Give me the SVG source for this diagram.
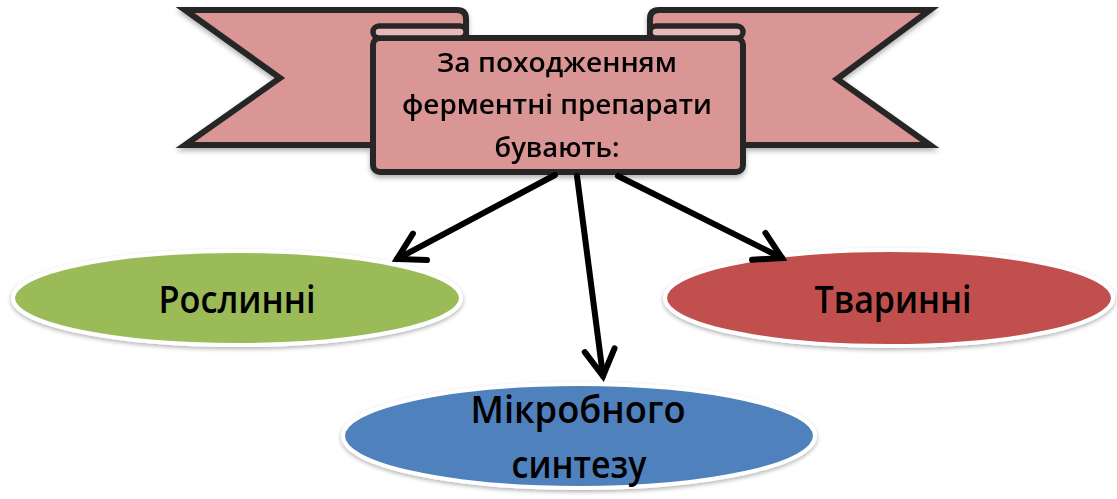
<svg xmlns="http://www.w3.org/2000/svg" width="1117" height="499" viewBox="0 0 1117 499">
<style>
.rib{fill:#d99694;stroke:#262626;stroke-width:6;stroke-linejoin:miter}
.curl{fill:#e6b8b7;stroke:#262626;stroke-width:5.5}
.hdr{font-family:"Open Sans","Liberation Sans",sans-serif;font-weight:600;font-size:27px;fill:#000;text-anchor:middle}
.lbl{font-family:"Open Sans","Liberation Sans",sans-serif;font-weight:600;font-size:38px;fill:#000;text-anchor:middle}
.ell{stroke:#ffffff;stroke-width:4;filter:url(#sh)}
.con{stroke:#000;stroke-width:6;fill:none;stroke-linecap:round;marker-end:url(#arr)}
</style>
<defs>
<filter id="sh" x="-10%" y="-20%" width="120%" height="150%">
<feDropShadow dx="0" dy="2" stdDeviation="2" flood-color="#000" flood-opacity="0.3"/>
</filter>
<filter id="sh2" x="-10%" y="-10%" width="120%" height="130%">
<feDropShadow dx="0" dy="3" stdDeviation="2.5" flood-color="#000" flood-opacity="0.3"/>
</filter>
<marker id="arr" markerUnits="userSpaceOnUse" viewBox="-34 -22 42 44" markerWidth="42" markerHeight="44" refX="0" refY="0" orient="auto">
<path d="M-26,-15 L0,0 L-26,15" fill="none" stroke="#000" stroke-width="6" stroke-linecap="round" stroke-linejoin="miter"/>
</marker>
</defs>
<g id="header" filter="url(#sh2)">
<path class="rib" d="M185,10 H457 Q466,10 466,19 V145 H185 L280,78 Z"/>
<path class="rib" d="M930,10 H659 Q650,10 650,19 V145 H930 L837,79 Z"/>
<rect class="rib" x="373" y="38" width="370" height="134" rx="7"/>
<rect class="curl" x="373" y="26" width="93" height="12" rx="6"/>
<rect class="curl" x="650" y="26" width="93" height="12" rx="6"/>
<text class="hdr" x="557" y="72" textLength="240" lengthAdjust="spacingAndGlyphs">За походженням</text>
<text class="hdr" x="557" y="114" textLength="310" lengthAdjust="spacingAndGlyphs">ферментні препарати</text>
<text class="hdr" x="557" y="157" textLength="125" lengthAdjust="spacingAndGlyphs">бувають:</text>
</g>
<g id="node-plant">
<ellipse class="ell" cx="237" cy="298" rx="224" ry="47" fill="#9bbb59"/>
<text class="lbl" x="237" y="313" textLength="157" lengthAdjust="spacingAndGlyphs">Рослинні</text>
</g>
<g id="node-animal">
<ellipse class="ell" cx="889" cy="298" rx="224" ry="48" fill="#c0504d"/>
<text class="lbl" x="893" y="313" textLength="157" lengthAdjust="spacingAndGlyphs">Тваринні</text>
</g>
<g id="node-microbial">
<ellipse class="ell" cx="579" cy="436" rx="236" ry="52" fill="#4f81bd"/>
<text class="lbl" x="578" y="423" textLength="215" lengthAdjust="spacingAndGlyphs">Мікробного</text>
<text class="lbl" x="579" y="478" textLength="135" lengthAdjust="spacingAndGlyphs">синтезу</text>
</g>
<g id="connectors">
<line class="con" x1="555" y1="175" x2="397" y2="259"/>
<line class="con" x1="577" y1="176" x2="603" y2="376"/>
<line class="con" x1="618" y1="176" x2="782" y2="258"/>
</g>
</svg>
